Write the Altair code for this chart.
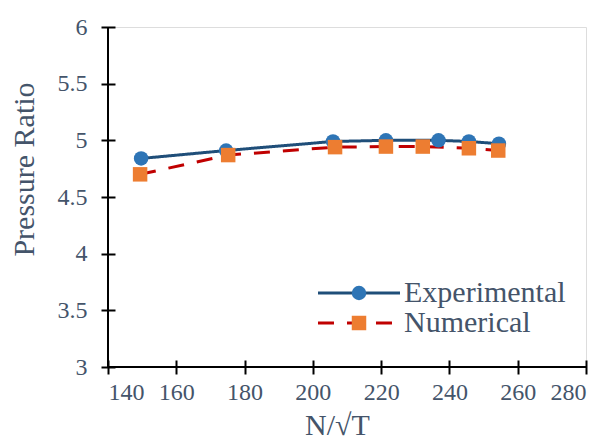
import altair as alt
import pandas as pd

# Corrected speed N/sqrt(T) and measured / simulated pressure ratio
exp_speed = [149.7, 174.6, 205.9, 221.4, 236.8, 245.7, 254.5]
exp_pr = [4.84, 4.91, 4.99, 5.00, 5.00, 4.99, 4.97]
num_speed = [149.4, 175.2, 206.5, 221.4, 232.2, 245.7, 254.3]
num_pr = [4.70, 4.87, 4.94, 4.945, 4.945, 4.93, 4.91]

series_names = ["Experimental", "Numerical"]
line_colors = ["#1F4E79", "#C00000"]
marker_colors = ["#2E75B6", "#ED7D31"]
x_ticks = [140, 160, 180, 200, 220, 240, 260, 280]
y_ticks = [3, 3.5, 4, 4.5, 5, 5.5, 6]

df = pd.concat([
    pd.DataFrame({"speed": exp_speed, "pr": exp_pr, "series": "Experimental"}),
    pd.DataFrame({"speed": num_speed, "pr": num_pr, "series": "Numerical"}),
], ignore_index=True)
# separate field so the marker legend stays apart from the line legend
df["marker"] = df["series"]

FONT = "Liberation Serif"
TXT = "#44546A"
W, H = 478, 340
MARK_SIZE = 210

x_scale = alt.Scale(domain=[140, 280], nice=False, zero=False)
y_scale = alt.Scale(domain=[3, 6], nice=False, zero=False)
x_axis = alt.Axis(
    values=x_ticks, title="N/√T", offset=-7, tickSize=14, domain=False,
    grid=False, tickColor="black", tickWidth=2, labelPadding=6,
    labelFont=FONT, labelFontSize=24, labelColor=TXT, format="d",
    titleFont=FONT, titleFontSize=30, titleColor=TXT, titleFontWeight="normal",
    titleBaseline="middle", titleY=65, titleX=229,
)
y_axis = alt.Axis(
    values=y_ticks, title="Pressure Ratio", offset=-7, tickSize=14, domain=False,
    grid=False, tickColor="black", tickWidth=2, labelPadding=14,
    labelFont=FONT, labelFontSize=24, labelColor=TXT, format="~g",
    titleFont=FONT, titleFontSize=30, titleColor=TXT, titleFontWeight="normal",
    titleBaseline="middle", titleX=-91, titleY=142,
)

# both legends share one geometry so the markers sit on the middle of the line samples
LEG_X, LEG_Y = 236, 251
line_legend = alt.Legend(
    orient="none", legendX=LEG_X, legendY=LEG_Y, title=None,
    symbolType="M-5.66,0H5.66", symbolSize=MARK_SIZE, symbolStrokeWidth=3,
    labelFont=FONT, labelFontSize=30, labelColor=TXT, labelOffset=30,
    labelLimit=400, rowPadding=0,
)
marker_legend = alt.Legend(
    orient="none", legendX=LEG_X, legendY=LEG_Y, title=None,
    symbolSize=MARK_SIZE, symbolStrokeWidth=0, labelOpacity=0,
    labelFont=FONT, labelFontSize=30, labelOffset=30, labelLimit=400, rowPadding=0,
)

lines = alt.Chart(df).mark_line(strokeWidth=3).encode(
    x=alt.X("speed:Q", scale=x_scale, axis=x_axis),
    y=alt.Y("pr:Q", scale=y_scale, axis=y_axis),
    stroke=alt.Stroke("series:N", scale=alt.Scale(domain=series_names, range=line_colors), legend=line_legend),
    strokeDash=alt.StrokeDash("series:N", scale=alt.Scale(domain=series_names, range=[[1, 0], [16, 13]]), legend=line_legend),
)

points = alt.Chart(df).mark_point(filled=True, size=MARK_SIZE, opacity=1).encode(
    x=alt.X("speed:Q", scale=x_scale, axis=x_axis),
    y=alt.Y("pr:Q", scale=y_scale, axis=y_axis),
    fill=alt.Fill("marker:N", scale=alt.Scale(range=marker_colors), legend=marker_legend),
    shape=alt.Shape("marker:N", scale=alt.Scale(range=["circle", "square"]), legend=marker_legend),
)

# axis lines along the left and bottom edges
axis_frame = pd.DataFrame({"x0": [140, 140], "x1": [140, 280], "y0": [3, 3], "y1": [6, 3]})
frame = alt.Chart(axis_frame).mark_rule(color="black", strokeWidth=2).encode(
    x=alt.X("x0:Q", scale=x_scale, axis=x_axis), x2="x1:Q",
    y=alt.Y("y0:Q", scale=y_scale, axis=y_axis), y2="y1:Q",
)

chart = alt.layer(frame, lines, points).properties(
    width=W, height=H,
    autosize=alt.AutoSizeParams(type="none"),
    padding={"left": 108, "top": 27, "right": 22, "bottom": 75},
).configure_view(stroke=None).configure(background="white")

chart.save("out.html", embed_options={"renderer": "svg", "actions": False})
